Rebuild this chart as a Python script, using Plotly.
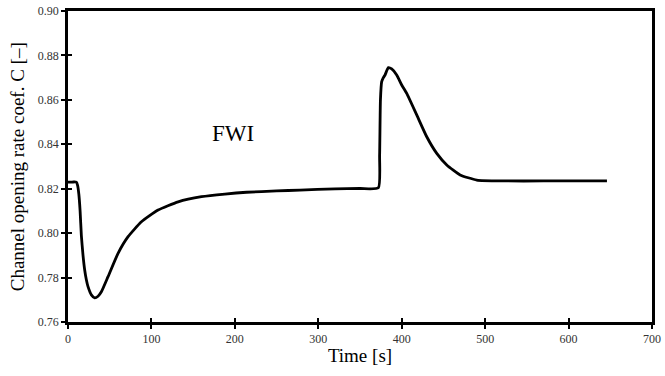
import plotly.graph_objects as go

time_s = [0, 5, 10, 11.5, 13, 14.5, 16, 18, 20, 22, 24, 28, 32, 36, 40, 48, 60, 72, 88, 108, 132, 160, 188, 214, 250, 278, 320, 350, 372,
          373.5, 374.5, 376, 378, 380, 384, 388, 394, 400, 406, 418, 430, 442, 454, 470, 490, 522, 570, 610, 646]
coef_c = [0.823, 0.823, 0.823, 0.8215, 0.8175, 0.8100, 0.7990, 0.7900, 0.7834, 0.7790, 0.7759, 0.7722, 0.7709, 0.7716, 0.7736, 0.7804, 0.7909, 0.7984, 0.8051, 0.8104, 0.8141, 0.8164, 0.8176, 0.8184, 0.8190, 0.8194, 0.8199, 0.8201, 0.8204,
          0.8350, 0.8600, 0.8682, 0.8700, 0.8712, 0.8745, 0.8739, 0.8712, 0.8667, 0.8629, 0.8532, 0.8434, 0.8359, 0.8307, 0.8262, 0.8239, 0.8235, 0.8235, 0.8235, 0.8235]

x_ticks = [0, 100, 200, 300, 400, 500, 600, 700]
y_ticks = [0.76, 0.78, 0.80, 0.82, 0.84, 0.86, 0.88, 0.90]
y_tick_text = ["0.76", "0.78", "0.80", "0.82", "0.84", "0.86", "0.88", "0.90"]

serif = "Liberation Serif"

fig = go.Figure()
fig.add_trace(go.Scatter(x=time_s, y=coef_c, mode="lines",
                         line=dict(color="black", width=2.8, shape="spline", smoothing=0.5),
                         showlegend=False, hoverinfo="skip"))
# invisible trace on overlay axes to get crossing ticks
fig.add_trace(go.Scatter(x=[0, 700], y=[0.76, 0.90], xaxis="x2", yaxis="y2", mode="markers",
                         marker=dict(opacity=0), showlegend=False, hoverinfo="skip"))

fig.add_annotation(x=198, y=0.845, text="FWI", showarrow=False,
                   font=dict(family=serif, size=23, color="black"))
# y-axis title placed as a rotated annotation so it can sit close to the page edge
fig.add_annotation(xref="paper", yref="paper", x=-0.086, y=0.5, xanchor="center", yanchor="middle",
                   text="Channel opening rate coef. C [–]", textangle=-90, showarrow=False,
                   font=dict(family=serif, size=19, color="black"))

fig.update_layout(
    width=665, height=376,
    margin=dict(l=68, r=13, t=11, b=54, autoexpand=False),
    paper_bgcolor="white", plot_bgcolor="white",
    xaxis=dict(range=[0, 700], tickvals=x_ticks, ticks="outside", ticklen=4, tickwidth=1.5, tickcolor="black",
               showline=True, linecolor="black", linewidth=2.5, mirror=True, showgrid=False, zeroline=False,
               automargin=False, tickfont=dict(family=serif, size=12, color="#333"),
               title=dict(text="Time [s]", font=dict(family=serif, size=19, color="black"), standoff=4)),
    yaxis=dict(range=[0.76, 0.90], tickvals=y_ticks, ticktext=y_tick_text, ticks="outside", ticklen=4, tickwidth=1.5,
               tickcolor="black", showline=True, linecolor="black", linewidth=2.5, mirror=True, showgrid=False,
               zeroline=False, automargin=False, tickfont=dict(family=serif, size=12, color="#333")),
    xaxis2=dict(range=[0, 700], tickvals=x_ticks, ticks="inside", ticklen=4, tickwidth=1.5, tickcolor="black",
                showticklabels=False, overlaying="x", side="bottom", showgrid=False, zeroline=False, showline=False,
                automargin=False),
    yaxis2=dict(range=[0.76, 0.90], tickvals=y_ticks, ticks="inside", ticklen=4, tickwidth=1.5, tickcolor="black",
                showticklabels=False, overlaying="y", side="left", showgrid=False, zeroline=False, showline=False,
                automargin=False),
)

# remove the page's default 8px body margin so the figure sits at the window origin
fig.write_html("out.html", config={"displayModeBar": False},
               post_script="document.body.style.margin='0px';")
